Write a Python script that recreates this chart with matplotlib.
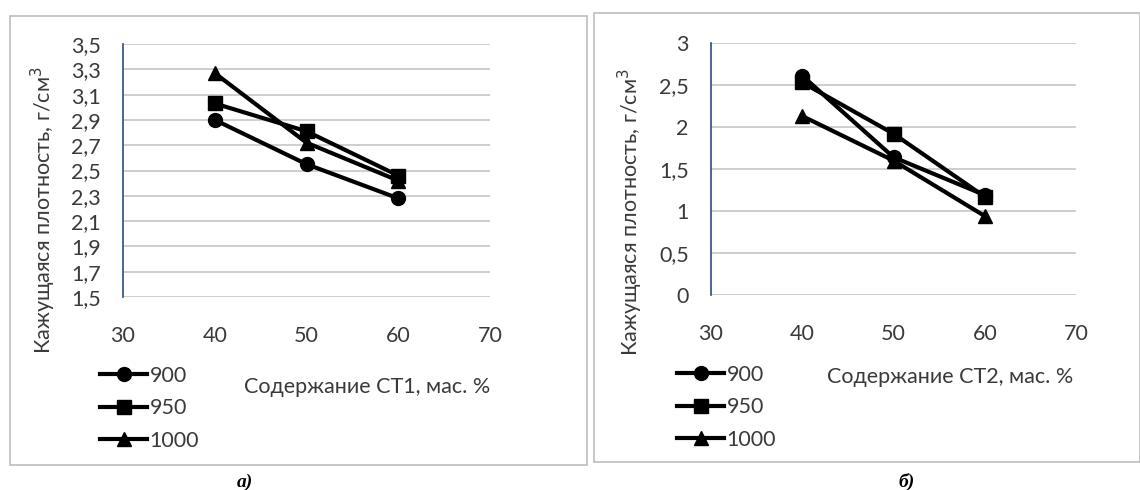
import numpy as np
import matplotlib.pyplot as plt
from matplotlib.patches import Rectangle
from matplotlib.lines import Line2D
from matplotlib.ticker import FuncFormatter

plt.rcParams['font.family'] = ['Lato', 'DejaVu Sans']

# data
x_pct = [40, 50, 60]
temps = ['900', '950', '1000']

# panel a) - CT1
a_900 = [2.90, 2.55, 2.28]
a_950 = [3.03, 2.81, 2.46]
a_1000 = [3.27, 2.72, 2.42]

# panel b) - CT2
b_900 = [2.61, 1.64, 1.19]
b_950 = [2.53, 1.92, 1.17]
b_1000 = [2.13, 1.60, 0.94]

W, H = 1140, 490
fig = plt.figure(figsize=(W / 100, H / 100), dpi=100)

def fx(p):
    return p / W

def fy(p):
    return 1 - p / H

def comma(v, pos):
    s = ('%.1f' % v).rstrip('0').rstrip('.')
    return s.replace('.', ',')

markers = ['o', 's', '^']
msizes = [10, 10, 10]
grid_col = '#c6c6c6'
spine_col = '#2f4b7c'
txt_col = '#3a3a3a'
fs = 15.5

def panel(box, axbox, series, yticks, xlabel, xlab_pos, ylab_pos, leg_pos, cap, cap_pos):
    # outer frame
    x0, y0, x1, y1 = box
    fig.patches.append(Rectangle((fx(x0), fy(y1)), fx(x1 - x0), (y1 - y0) / H,
                                 transform=fig.transFigure, fill=False,
                                 edgecolor='#bdbdbd', lw=1.2))
    l, t, r, b = axbox
    ax = fig.add_axes([fx(l), fy(b), fx(r - l), (b - t) / H])
    for ys, m, ms in zip(series, markers, msizes):
        ax.plot(x_pct, ys, color='black', lw=3, marker=m, markersize=ms,
                clip_on=False, zorder=3)
    ax.set_xlim(30, 70)
    ax.set_xticks([30, 40, 50, 60, 70])
    ax.set_ylim(yticks[0], yticks[-1])
    ax.set_yticks(yticks)
    ax.yaxis.set_major_formatter(FuncFormatter(comma))
    ax.grid(axis='y', color=grid_col, lw=1.2)
    ax.set_axisbelow(True)
    for s in ['top', 'right', 'bottom']:
        ax.spines[s].set_visible(False)
    ax.spines['left'].set_color(spine_col)
    ax.spines['left'].set_linewidth(1.2)
    ax.tick_params(axis='x', length=0, pad=21, labelsize=fs, colors=txt_col)
    ax.tick_params(axis='y', length=0, pad=16, labelsize=fs, colors=txt_col)

    fig.text(fx(xlab_pos[0]), fy(xlab_pos[1]), xlabel, ha='center', va='center',
             fontsize=fs, color=txt_col)
    fig.text(fx(ylab_pos[0]), fy(ylab_pos[1]), 'Кажущаяся плотность, г/см$^3$',
             rotation=90, ha='center', va='center', fontsize=fs, color=txt_col)

    handles = [Line2D([0], [0], color='black', lw=3, marker=m, markersize=ms)
               for m, ms in zip(markers, msizes)]
    fig.legend(handles, temps, loc='upper left',
               bbox_to_anchor=(fx(leg_pos[0]), fy(leg_pos[1])),
               frameon=False, fontsize=fs, handlelength=2.2, handletextpad=0.1,
               labelspacing=0.58, borderaxespad=0, borderpad=0,
               labelcolor=txt_col)

    fig.text(fx(cap_pos[0]), fy(cap_pos[1]), cap, ha='center', va='center',
             fontsize=14, fontweight='bold', fontstyle='italic',
             family=['Liberation Serif', 'DejaVu Serif'])
    return ax

panel((10, 16, 587, 465), (123, 44, 490, 297),
      [a_900, a_950, a_1000], np.round(np.arange(1.5, 3.51, 0.2), 1),
      'Содержание СТ1, мас. %', (367, 387), (43, 210), (100, 366), 'а)', (245, 482))

panel((594, 13, 1140, 462), (711, 43, 1076, 295),
      [b_900, b_950, b_1000], np.arange(0, 3.01, 0.5),
      'Содержание СТ2, мас. %', (950, 377), (630, 212), (677, 365), 'б)', (907, 482))

fig.savefig('out.png', dpi=100)
